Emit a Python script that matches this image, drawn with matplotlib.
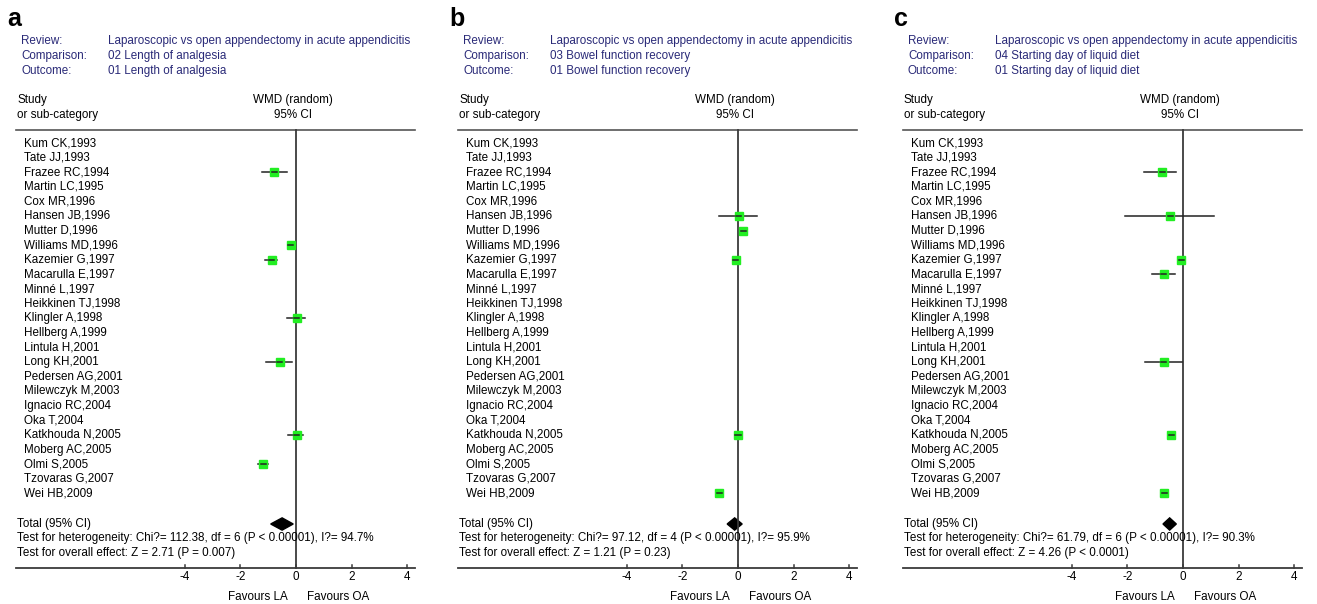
import numpy as np
import matplotlib
matplotlib.use("Agg")
import matplotlib.pyplot as plt

plt.rcParams['font.family'] = ['Liberation Sans', 'DejaVu Sans']

W, H = 1317, 604

studies = ["Kum CK,1993", "Tate JJ,1993", "Frazee RC,1994", "Martin LC,1995", "Cox MR,1996",
           "Hansen JB,1996", "Mutter D,1996", "Williams MD,1996", "Kazemier G,1997",
           "Macarulla E,1997", "Minné L,1997", "Heikkinen TJ,1998", "Klingler A,1998",
           "Hellberg A,1999", "Lintula H,2001", "Long KH,2001", "Pedersen AG,2001",
           "Milewczyk M,2003", "Ignacio RC,2004", "Oka T,2004", "Katkhouda N,2005",
           "Moberg AC,2005", "Olmi S,2005", "Tzovaras G,2007", "Wei HB,2009"]

panel_letters = ["a", "b", "c"]
comparisons = ["02 Length of analgesia", "03 Bowel function recovery", "04 Starting day of liquid diet"]
outcomes = ["01 Length of analgesia", "01 Bowel function recovery", "01 Starting day of liquid diet"]

# per panel: study name -> (WMD, lower, upper)
est_a = {"Frazee RC,1994": (-0.78, -1.21, -0.34),
         "Williams MD,1996": (-0.18, -0.26, -0.10),
         "Kazemier G,1997": (-0.88, -1.12, -0.70),
         "Klingler A,1998": (0.02, -0.31, 0.32),
         "Long KH,2001": (-0.58, -1.08, -0.14),
         "Katkhouda N,2005": (0.02, -0.28, 0.26),
         "Olmi S,2005": (-1.18, -1.35, -1.00)}
est_b = {"Hansen JB,1996": (0.02, -0.68, 0.68),
         "Mutter D,1996": (0.18, 0.06, 0.30),
         "Kazemier G,1997": (-0.08, -0.12, -0.04),
         "Katkhouda N,2005": (0.00, -0.03, 0.03),
         "Wei HB,2009": (-0.68, -0.72, -0.64)}
est_c = {"Frazee RC,1994": (-0.75, -1.39, -0.24),
         "Hansen JB,1996": (-0.45, -2.09, 1.12),
         "Kazemier G,1997": (-0.06, -0.10, -0.02),
         "Macarulla E,1997": (-0.69, -1.11, -0.29),
         "Long KH,2001": (-0.69, -1.35, -0.04),
         "Katkhouda N,2005": (-0.43, -0.47, -0.39),
         "Wei HB,2009": (-0.67, -0.71, -0.63)}
estimates = [est_a, est_b, est_c]

totals = [(-0.50, -0.91, -0.10), (-0.12, -0.39, 0.15), (-0.48, -0.72, -0.24)]
heterogeneity = ["Test for heterogeneity: Chi?= 112.38, df = 6 (P < 0.00001), I?= 94.7%",
                 "Test for heterogeneity: Chi?= 97.12, df = 4 (P < 0.00001), I?= 95.9%",
                 "Test for heterogeneity: Chi?= 61.79, df = 6 (P < 0.00001), I?= 90.3%"]
overall = ["Test for overall effect: Z = 2.71 (P = 0.007)",
           "Test for overall effect: Z = 1.21 (P = 0.23)",
           "Test for overall effect: Z = 4.26 (P < 0.0001)"]
xticks = [-4, -2, 0, 2, 4]

offsets = [0, 442, 887]
zero_px = 296      # local pixel of x=0
unit_px = 27.8     # pixels per WMD unit
row0_px = 143
row_px = 14.6
PW = 430

navy = "#2a2a78"
line_c = "#3a3a3a"
fs = 8.4

fig = plt.figure(figsize=(W / 100, H / 100), dpi=100)

for k in range(3):
    ox = offsets[k]
    ax = fig.add_axes([ox / W, 0, PW / W, 1])
    ax.axis("off")
    ax.set_xlim((0 - zero_px) / unit_px, (PW - zero_px) / unit_px)
    ax.set_ylim((H - row0_px) / row_px, -row0_px / row_px)

    def px(x):
        return (x - zero_px) / unit_px

    def py(y):
        return (y - row0_px) / row_px

    # header
    ax.text(px(7), py(19), panel_letters[k], fontsize=18, fontweight="bold", va="center")
    for lbl, val, y in [("Review:", "Laparoscopic vs open appendectomy in acute appendicitis", 41),
                        ("Comparison:", comparisons[k], 56),
                        ("Outcome:", outcomes[k], 71)]:
        ax.text(px(21), py(y), lbl, fontsize=fs, color=navy, va="center")
        ax.text(px(108), py(y), val, fontsize=fs, color=navy, va="center")
    ax.text(px(17), py(100), "Study", fontsize=fs, va="center")
    ax.text(px(17), py(115), "or sub-category", fontsize=fs, va="center")
    ax.text(px(293), py(100), "WMD (random)", fontsize=fs, va="center", ha="center")
    ax.text(px(293), py(115), "95% CI", fontsize=fs, va="center", ha="center")

    top = py(130)
    axis_y = py(568)
    ax.plot([px(16), px(415)], [top, top], color="#555555", lw=1.2)
    ax.plot([0, 0], [top, axis_y], color=line_c, lw=1.3)

    # studies
    for i, name in enumerate(studies):
        ax.text(px(24), i, name, fontsize=fs, va="center")
        if name in estimates[k]:
            m, lo, hi = estimates[k][name]
            ax.plot([lo, hi], [i, i], color="#222222", lw=1.1)
            ax.plot(m, i, marker="s", ms=5.5, mfc="#22ee22", mec="#22ee22", ls="none")
            ax.plot([m - 0.09, m + 0.09], [i, i], color="#222222", lw=1.1)

    # total diamond
    m, lo, hi = totals[k]
    ty = py(524)
    h = 0.42
    ax.fill([lo, m, hi, m], [ty, ty - h, ty, ty + h], color="black")
    ax.text(px(17), ty, "Total (95% CI)", fontsize=fs, va="center")
    ax.text(px(17), py(538), heterogeneity[k], fontsize=fs, va="center")
    ax.text(px(17), py(553), overall[k], fontsize=fs, va="center")

    # x axis
    ax.plot([px(16), px(415)], [axis_y, axis_y], color=line_c, lw=1.3)
    for t in xticks:
        ax.plot([t, t], [axis_y, axis_y - 0.2], color=line_c, lw=1.1)
        ax.text(t, py(577), f"{t}" if t >= 0 else f"-{abs(t)}", fontsize=fs, ha="center", va="center")
    ax.text(px(288), py(597), "Favours LA", fontsize=fs, ha="right", va="center")
    ax.text(px(307), py(597), "Favours OA", fontsize=fs, ha="left", va="center")

fig.savefig("out.png", dpi=100)
